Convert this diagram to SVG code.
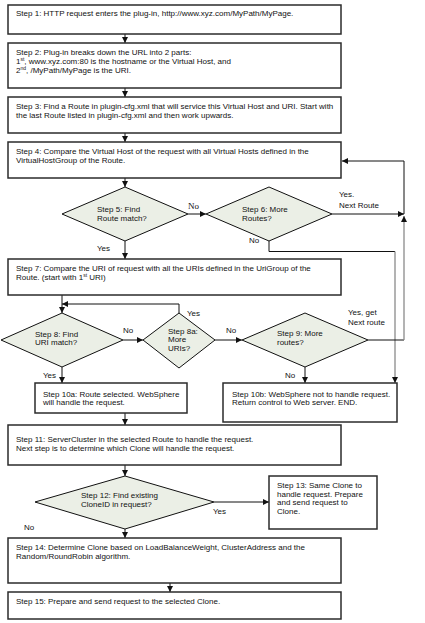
<svg xmlns="http://www.w3.org/2000/svg" width="425" height="623" viewBox="0 0 425 623">
<style>
.bg{fill:#ffffff}
.box{fill:#ffffff;stroke:#2b2b2b;stroke-width:1.5}
.dia{fill:#ebefe6;stroke:#111;stroke-width:1}
.t{font-family:"Liberation Sans",Arial,sans-serif;font-size:8px;fill:#111}
.s{font-family:"Liberation Serif","Times New Roman",serif;font-size:9px;fill:#111}
.sup{font-size:5px}
.c{fill:none;stroke:#111;stroke-width:1}
.g{fill:none;stroke:#8a8a8a;stroke-width:1.3}
</style>
<defs>
<marker id="a" markerWidth="6" markerHeight="6" refX="6" refY="3" orient="auto" markerUnits="userSpaceOnUse">
<path d="M0,0 L6,3 L0,6 z" fill="#111"/>
</marker>
</defs>
<rect class="bg" x="0" y="0" width="425" height="623"/>

<g id="connectors">
<path class="c" d="M125,34 V43" marker-end="url(#a)"/>
<path class="c" d="M125,88 V97" marker-end="url(#a)"/>
<path class="c" d="M125,133 V142" marker-end="url(#a)"/>
<path class="c" d="M125,178 V187" marker-end="url(#a)"/>
<path class="c" d="M188,214 H206" marker-end="url(#a)"/>
<path class="c" d="M332,214 H404" marker-end="url(#a)"/>
<path class="c" d="M404,214 V161 H342" marker-end="url(#a)"/>
<path class="c" d="M269,241 V251.5 H395"/>
<path class="g" d="M395,251.5 V383" marker-end="url(#a)"/>
<path class="c" d="M125,241 V259" marker-end="url(#a)"/>
<path class="c" d="M62,295 V313" marker-end="url(#a)"/>
<path class="c" d="M179,313 V304 H62" marker-end="url(#a)"/>
<path class="c" d="M123,340 H143" marker-end="url(#a)"/>
<path class="c" d="M215,340 H242" marker-end="url(#a)"/>
<path class="c" d="M368,340 H404"/>
<path class="g" d="M404,340 V216" marker-end="url(#a)"/>
<path class="c" d="M62,367 V383" marker-end="url(#a)"/>
<path class="c" d="M305,367 V383" marker-end="url(#a)"/>
<path class="c" d="M125,413 V425" marker-end="url(#a)"/>
<path class="c" d="M125,465 V476" marker-end="url(#a)"/>
<path class="c" d="M214,502 H269" marker-end="url(#a)"/>
<path class="c" d="M125,529 V538" marker-end="url(#a)"/>
<path class="c" d="M170,583 V592" marker-end="url(#a)"/>
</g>

<g id="labels">
<text class="s" x="188" y="209">No</text>
<text class="t" x="339" y="197">Yes.</text>
<text class="t" x="339" y="208">Next Route</text>
<text class="t" x="249" y="243">No</text>
<text class="t" x="97" y="251">Yes</text>
<text class="t" x="187" y="316">Yes</text>
<text class="t" x="123" y="333">No</text>
<text class="t" x="226" y="333">No</text>
<text class="t" x="348" y="315">Yes, get</text>
<text class="t" x="348" y="325">Next route</text>
<text class="t" x="43" y="377.5">Yes</text>
<text class="t" x="285" y="377.5">No</text>
<text class="t" x="213" y="514">Yes</text>
<text class="t" x="24" y="530">No</text>
</g>

<g id="step1">
<rect class="box" x="8" y="5" width="333" height="29"/>
<text class="t" x="16" y="16">Step 1: HTTP request enters the plug-in, http://www.xyz.com/MyPath/MyPage.</text>
</g>
<g id="step2">
<rect class="box" x="8" y="43" width="333" height="45"/>
<text class="t" x="16" y="54.5">Step 2: Plug-in breaks down the URL into 2 parts:</text>
<text class="t" x="16" y="64">1<tspan class="sup" dy="-3">st</tspan><tspan dy="3">, www.xyz.com:80 is the hostname or the Virtual Host, and</tspan></text>
<text class="t" x="16" y="73">2<tspan class="sup" dy="-3">nd</tspan><tspan dy="3">, /MyPath/MyPage is the URI.</tspan></text>
</g>
<g id="step3">
<rect class="box" x="8" y="97" width="333" height="36"/>
<text class="t" x="16" y="108.5">Step 3: Find a Route in plugin-cfg.xml that will service this Virtual Host and URI. Start with</text>
<text class="t" x="16" y="118">the last Route listed in plugin-cfg.xml and then work upwards.</text>
</g>
<g id="step4">
<rect class="box" x="8" y="142" width="333" height="36"/>
<text class="t" x="16" y="153.5">Step 4: Compare the Virtual Host of the request with all Virtual Hosts defined in the</text>
<text class="t" x="16" y="163">VirtualHostGroup of the Route.</text>
</g>
<g id="step5">
<polygon class="dia" points="125,187 188,214 125,241 62,214"/>
<text class="t" x="97" y="211.5">Step 5: Find</text>
<text class="t" x="97" y="221">Route match?</text>
</g>
<g id="step6">
<polygon class="dia" points="269,187 332,214 269,241 206,214"/>
<text class="t" x="242" y="211.5">Step 6: More</text>
<text class="t" x="242" y="221">Routes?</text>
</g>
<g id="step7">
<rect class="box" x="8" y="259" width="333" height="36"/>
<text class="t" x="16" y="270.5">Step 7: Compare the URI of request with all the URIs defined in the UriGroup of the</text>
<text class="t" x="16" y="279.5">Route. (start with 1<tspan class="sup" dy="-3">st</tspan><tspan dy="3"> URI)</tspan></text>
</g>
<g id="step8">
<polygon class="dia" points="62,313 123,340 62,367 1,340"/>
<text class="t" x="35" y="336.5">Step 8: Find</text>
<text class="t" x="35" y="345">URI match?</text>
</g>
<g id="step8a">
<polygon class="dia" points="179,313 215,340 179,368 143,340"/>
<text class="t" x="168" y="333.5">Step 8a:</text>
<text class="t" x="168" y="342">More</text>
<text class="t" x="168" y="350.5">URIs?</text>
</g>
<g id="step9">
<polygon class="dia" points="305,313 368,340 305,367 242,340"/>
<text class="t" x="277" y="336">Step 9: More</text>
<text class="t" x="277" y="344.5">routes?</text>
</g>
<g id="step10a">
<rect class="box" x="35" y="383" width="152" height="30"/>
<text class="t" x="43" y="396.5">Step 10a: Route selected. WebSphere</text>
<text class="t" x="43" y="405">will handle the request.</text>
</g>
<g id="step10b">
<rect class="box" x="223" y="383" width="174" height="39"/>
<text class="t" x="232" y="396.5">Step 10b: WebSphere not to handle request.</text>
<text class="t" x="232" y="405">Return control to Web server. END.</text>
</g>
<g id="step11">
<rect class="box" x="8" y="425" width="333" height="40"/>
<text class="t" x="16" y="442">Step 11: ServerCluster in the selected Route to handle the request.</text>
<text class="t" x="16" y="450.5">Next step is to determine which Clone will handle the request.</text>
</g>
<g id="step12">
<polygon class="dia" points="125,476 214,502 125,529 35,502"/>
<text class="t" x="81" y="498">Step 12: Find existing</text>
<text class="t" x="81" y="507">CloneID in request?</text>
</g>
<g id="step13">
<rect class="box" x="269" y="476" width="108" height="53"/>
<text class="t" x="277" y="488">Step 13: Same Clone to</text>
<text class="t" x="277" y="496.5">handle request. Prepare</text>
<text class="t" x="277" y="505">and send request to</text>
<text class="t" x="277" y="514">Clone.</text>
</g>
<g id="step14">
<rect class="box" x="8" y="538" width="333" height="45"/>
<text class="t" x="16" y="549.5">Step 14: Determine Clone based on LoadBalanceWeight, ClusterAddress and the</text>
<text class="t" x="16" y="558.5">Random/RoundRobin algorithm.</text>
</g>
<g id="step15">
<rect class="box" x="8" y="592" width="333" height="27"/>
<text class="t" x="16" y="603.5">Step 15: Prepare and send request to the selected Clone.</text>
</g>
</svg>
